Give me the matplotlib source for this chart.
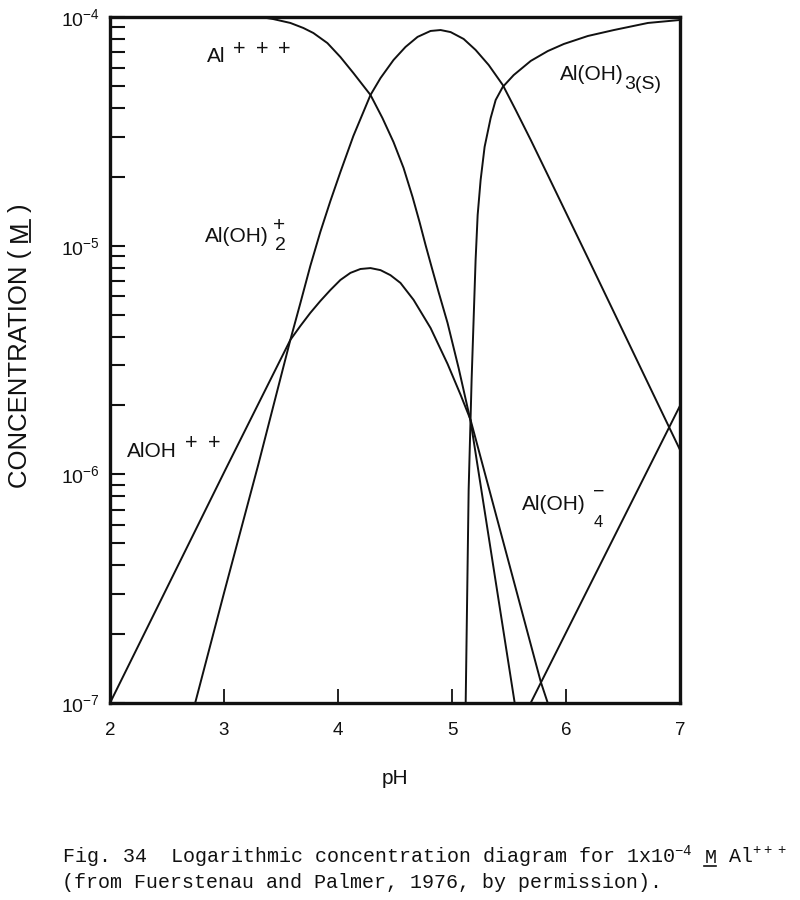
import matplotlib
matplotlib.use('Agg')
import matplotlib.pyplot as plt
import numpy as np
from matplotlib.lines import Line2D
from matplotlib.ticker import LogLocator, NullFormatter

plt.rcParams['font.family'] = ['Liberation Sans', 'DejaVu Sans']
plt.rcParams['mathtext.default'] = 'regular'

# ---- data: pH and log10 concentration ----
al3_ph = [2.0, 3.0, 3.318, 3.432, 3.582, 3.696, 3.784, 3.907, 4.021, 4.135, 4.285, 4.390,
          4.487, 4.575, 4.654, 4.715, 4.768, 4.821, 4.882, 4.961, 5.058, 5.163, 5.550]
al3_log = [-4.0, -4.0, -4.0, -4.009, -4.026, -4.048, -4.070, -4.114, -4.175, -4.245, -4.341,
           -4.442, -4.547, -4.660, -4.787, -4.896, -4.997, -5.093, -5.202, -5.338, -5.535,
           -5.767, -7.0]

aloh_ph = [2.0, 3.011, 3.582, 3.670, 3.757, 3.845, 3.933, 4.021, 4.109, 4.197, 4.285, 4.373,
           4.460, 4.548, 4.663, 4.812, 4.961, 5.076, 5.163, 5.779, 5.840]
aloh_log = [-7.0, -5.981, -5.412, -5.351, -5.294, -5.242, -5.194, -5.150, -5.119, -5.102,
            -5.098, -5.107, -5.129, -5.163, -5.237, -5.360, -5.517, -5.653, -5.762, -6.908,
            -7.0]

aloh2_ph = [2.747, 3.0, 3.3, 3.582, 3.670, 3.757, 3.845, 3.933, 4.021, 4.135, 4.285, 4.373,
            4.487, 4.592, 4.698, 4.812, 4.900, 4.988, 5.102, 5.207, 5.322, 5.445, 5.559,
            5.691, 5.840, 6.192, 7.0]
aloh2_log = [-7.0, -6.519, -5.959, -5.412, -5.251, -5.089, -4.940, -4.805, -4.678, -4.520,
             -4.341, -4.267, -4.188, -4.131, -4.087, -4.061, -4.057, -4.066, -4.096, -4.144,
             -4.210, -4.297, -4.407, -4.538, -4.691, -5.054, -5.893]

aloh3s_ph = [5.120, 5.146, 5.172, 5.207, 5.225, 5.251, 5.286, 5.339, 5.383, 5.445, 5.541,
             5.691, 5.840, 5.981, 6.192, 6.420, 6.719, 7.0]
aloh3s_log = [-7.0, -6.068, -5.587, -5.063, -4.866, -4.713, -4.568, -4.442, -4.363, -4.306,
              -4.254, -4.192, -4.149, -4.118, -4.083, -4.057, -4.026, -4.013]

aloh4_ph = [5.69, 7.0]
aloh4_log = [-7.0, -5.70]

x_ticks = [2, 3, 4, 5, 6, 7]
x_ticklabels = ['2', '3', '4', '5', '6', '7']
y_ticks = [1e-7, 1e-6, 1e-5, 1e-4]
y_ticklabels = [r'10$^{-7}$', r'10$^{-6}$', r'10$^{-5}$', r'10$^{-4}$']

W, H = 800, 900
fig = plt.figure(figsize=(8, 9), dpi=100)
ax = fig.add_axes([110 / W, 1 - 703 / H, 570 / W, 686 / H])
ax.set_yscale('log')

ink = '#111111'
for ph, lg in [(al3_ph, al3_log), (aloh_ph, aloh_log), (aloh2_ph, aloh2_log),
               (aloh3s_ph, aloh3s_log), (aloh4_ph, aloh4_log)]:
    ax.plot(ph, 10 ** np.array(lg), color=ink, lw=1.4, solid_joinstyle='round')

ax.set_xlim(2, 7)
ax.set_ylim(1e-7, 1e-4)
ax.set_xticks(x_ticks, x_ticklabels)
ax.set_yticks(y_ticks, y_ticklabels)
ax.yaxis.set_minor_locator(LogLocator(base=10, subs=range(2, 10)))
ax.yaxis.set_minor_formatter(NullFormatter())
ax.tick_params(axis='y', which='both', direction='in', length=11, width=1.5,
               labelsize=14, pad=7, colors=ink)
ax.tick_params(axis='x', which='both', direction='in', length=10, width=1.3,
               labelsize=13.5, pad=14, colors=ink)
for s in ax.spines.values():
    s.set_linewidth(2.4)
    s.set_color(ink)

ax.set_xlabel('pH', fontsize=15, labelpad=21, color=ink)

def px(x, y):
    return x / W, 1 - y / H

renderer = fig.canvas.get_renderer()
MAIN = 15
SMALL = 14

def put(x, y, s, size, ha='left'):
    return fig.text(*px(x, y), s, fontsize=size, ha=ha, va='baseline', color=ink)

# species labels: main text placed at (left, baseline); sub/superscripts positioned by pixel
put(207, 62, 'Al', MAIN)
for cx in (239, 262, 284):
    put(cx, 55, '+', SMALL + 1.5, ha='center')

put(560, 80, 'Al(OH)', MAIN)
put(624, 89, '3(S)', SMALL)

put(205, 242, 'Al(OH)', MAIN)
put(279, 231, '+', SMALL + 1, ha='center')
put(280, 250, '2', SMALL, ha='center')

put(127, 457, 'AlOH', MAIN)
for cx in (191, 214):
    put(cx, 449, '+', SMALL + 1.5, ha='center')

put(522, 510, 'Al(OH)', MAIN)
put(599, 497, '\u2212', SMALL, ha='center')
put(598, 527, '4', SMALL - 2, ha='center')

# y axis label, rotated, with underlined M
YL = 18.5
ylx, yly = 27, 488
t1 = fig.text(*px(ylx, yly), 'CONCENTRATION (', fontsize=YL, rotation=90,
              rotation_mode='anchor', ha='left', va='baseline', color=ink)
b1 = t1.get_window_extent(renderer)
gap = 8
ym = yly - b1.height - gap
t2 = fig.text(*px(ylx, ym), 'M', fontsize=YL, rotation=90,
              rotation_mode='anchor', ha='left', va='baseline', color=ink)
b2 = t2.get_window_extent(renderer)
fig.add_artist(Line2D([(ylx + 3) / W] * 2, [1 - ym / H, 1 - (ym - b2.height) / H],
                      transform=fig.transFigure, color=ink, lw=1.3))
t3 = fig.text(*px(ylx, ym - b2.height - gap), ')', fontsize=YL, rotation=90,
              rotation_mode='anchor', ha='left', va='baseline', color=ink)

# caption
cap_font = dict(family=['Liberation Mono', 'DejaVu Sans Mono'], fontsize=14.4, color=ink)
cx, cy1, cy2 = 62, 863, 888
c1 = fig.text(*px(cx, cy1), r'Fig. 34  Logarithmic concentration diagram for 1x10$^{-4}$',
              ha='left', va='baseline', **cap_font)
bb = c1.get_window_extent(renderer)
cw = fig.text(0, 0, 'M', alpha=0, **cap_font).get_window_extent(renderer).width
mx = cx + (bb.x1 - bb.x0) + cw
c2 = fig.text(*px(mx, cy1), 'M', ha='left', va='baseline', **cap_font)
bm = c2.get_window_extent(renderer)
fig.add_artist(Line2D([mx / W, (mx + bm.width) / W], [1 - (cy1 + 3) / H] * 2,
                      transform=fig.transFigure, color=ink, lw=1.2))
fig.text(*px(mx + bm.width + cw, cy1), r'Al$^{+++}$', ha='left', va='baseline', **cap_font)
fig.text(*px(cx, cy2), '(from Fuerstenau and Palmer, 1976, by permission).',
         ha='left', va='baseline', **cap_font)

fig.savefig('out.png', dpi=100, facecolor='white')
